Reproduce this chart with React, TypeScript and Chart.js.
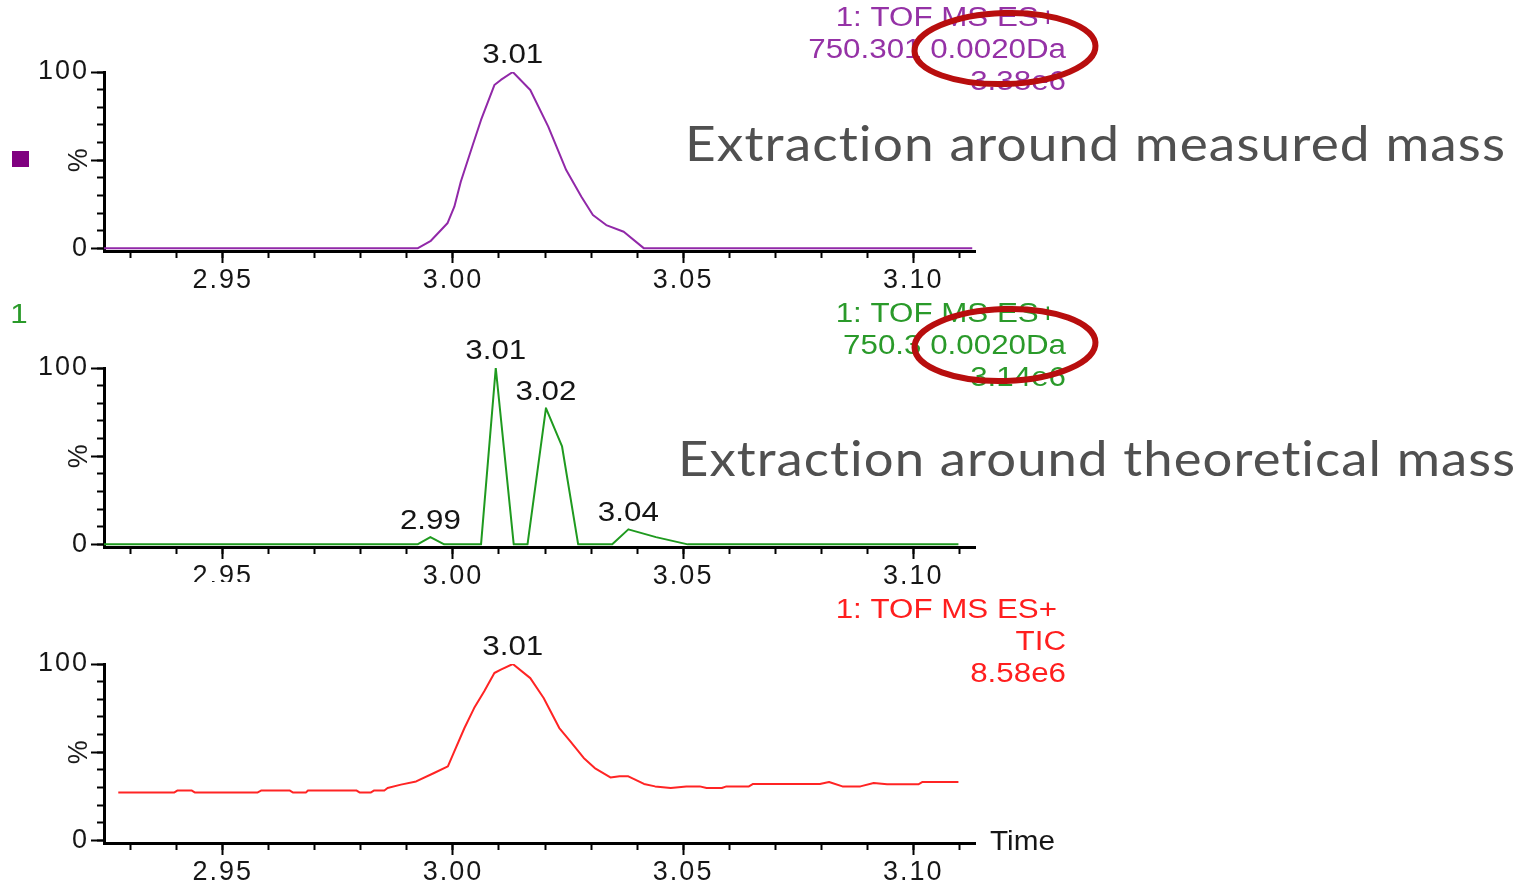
import React, { useEffect, useRef } from "react";
import { Chart, registerables } from "chart.js";

Chart.register(...registerables);

const FONT = "'Liberation Sans', Arial, sans-serif";
const W = 1529;
const H = 886;
const PLOT_LEFT = 104;
const PLOT_RIGHT = 975;
const X_AXIS_H = 45;
const Y_AXIS_W = 100;
const SX = 1.16;

// ---- axes ----
const xMin = 2.9242;
const xMax = 3.1134;
const xMinorTicks = [2.93, 2.94, 2.95, 2.96, 2.97, 2.98, 2.99, 3.0, 3.01, 3.02, 3.03, 3.04, 3.05, 3.06, 3.07, 3.08, 3.09, 3.1, 3.11];
const xMajorTicks = [2.95, 3.0, 3.05, 3.1];
const xTickLabels = ["2.95", "3.00", "3.05", "3.10"];
const yMin = -1.5;
const yMax = 100;
const yMinorTicks = [0, 10, 20, 30, 40, 50, 60, 70, 80, 90, 100];
const yMajorTicks = [0, 50, 100];
const yTickLabels = ["0", "", "100"];
const yTitle = "%";
const xTitle = "Time";

// ---- panel 1: extraction around measured mass ----
const measuredTimes = [2.9242, 2.9923, 2.9952, 2.9988, 3.0003, 3.0017, 3.0043, 3.0061, 3.009, 3.0104, 3.013, 3.0168, 3.0207, 3.0246, 3.0279, 3.0304, 3.0333, 3.0371, 3.0415, 3.1128];
const measuredValues = [0, 0, 4.3, 14.2, 23.6, 37.8, 58.6, 72.8, 92.6, 95.5, 100, 89.8, 69, 44.4, 29.3, 18.9, 13.2, 9.4, 0, 0];
const measuredPeakTimes = [3.013];
const measuredPeakValues = [100];
const measuredPeakLabels = ["3.01"];
const measuredInfo = ["1: TOF MS ES+", "750.301 0.0020Da", "3.38e6"];
const measuredCaption = "Extraction around measured mass";

// ---- panel 2: extraction around theoretical mass ----
const theoTimes = [2.9242, 2.9923, 2.9951, 2.9981, 3.0061, 3.0093, 3.0132, 3.0162, 3.0202, 3.0237, 3.0272, 3.0346, 3.0381, 3.0441, 3.051, 3.1098];
const theoValues = [0, 0, 4.1, 0, 0, 100, 0, 0, 77.2, 55.5, 0, 0, 8.5, 4.1, 0, 0];
const theoPeakTimes = [3.0093, 3.0202, 2.9951, 3.0381];
const theoPeakValues = [100, 77.2, 4.1, 8.5];
const theoPeakLabels = ["3.01", "3.02", "2.99", "3.04"];
const theoInfo = ["1: TOF MS ES+", "750.3 0.0020Da", "3.14e6"];
const theoCaption = "Extraction around theoretical mass";

// ---- panel 3: TIC ----
const ticTimes = [2.9273, 2.9395, 2.9402, 2.9432, 2.9439, 2.9576, 2.9584, 2.9645, 2.9652, 2.9681, 2.9685, 2.979, 2.9797, 2.9822, 2.9829, 2.9851, 2.9858, 2.9887, 2.992, 2.9959, 2.9989, 3.0003, 3.0025, 3.0046, 3.0068, 3.009, 3.0104, 3.013, 3.0168, 3.0197, 3.0231, 3.0255, 3.0284, 3.0308, 3.0342, 3.0362, 3.0381, 3.0415, 3.0439, 3.0473, 3.0507, 3.0536, 3.0551, 3.0584, 3.0594, 3.0643, 3.0652, 3.0797, 3.0817, 3.0846, 3.0885, 3.0914, 3.0943, 3.1011, 3.102, 3.1098];
const ticValues = [27.2, 27.2, 28.3, 28.3, 27.2, 27.2, 28.3, 28.3, 27.2, 27.2, 28.3, 28.3, 27.2, 27.2, 28.3, 28.3, 29.7, 31.6, 33.4, 38.2, 41.9, 50.5, 63.7, 75, 84.5, 94.9, 96.8, 100, 92, 80.7, 63.7, 56.1, 46.7, 41, 35.7, 36.3, 36.3, 32, 30.6, 29.7, 30.6, 30.6, 29.7, 29.7, 30.6, 30.6, 32, 32, 33.1, 30.6, 30.6, 32.5, 31.8, 31.8, 33.1, 33.1];
const ticPeakTimes = [3.013];
const ticPeakValues = [100];
const ticPeakLabels = ["3.01"];
const ticInfo = ["1: TOF MS ES+", "TIC", "8.58e6"];

function drawStretched(
  ctx: CanvasRenderingContext2D,
  text: string,
  x: number,
  y: number,
  align: "left" | "center" | "right",
  sx: number = SX
) {
  ctx.save();
  ctx.letterSpacing = "0px";
  const w = ctx.measureText(text).width * sx;
  const x0 = align === "left" ? x : align === "center" ? x - w / 2 : x - w;
  ctx.translate(x0, y);
  ctx.scale(sx, 1);
  ctx.textAlign = "left";
  ctx.fillText(text, 0, 0);
  ctx.restore();
}

function drawCaption(ctx: CanvasRenderingContext2D, text: string, left: number, right: number, baseline: number) {
  ctx.save();
  ctx.font = "48px Lato, 'Open Sans', sans-serif";
  ctx.letterSpacing = "1px";
  const w0 = ctx.measureText(text).width - 1;
  const sx = (right - left) / w0;
  ctx.fillStyle = "#505050";
  ctx.textAlign = "left";
  ctx.textBaseline = "alphabetic";
  ctx.translate(left, baseline);
  ctx.scale(sx, 1);
  ctx.fillText(text, 0, 0);
  ctx.restore();
}

function drawEllipse(ctx: CanvasRenderingContext2D, cx: number, cy: number, rx: number, ry: number) {
  ctx.save();
  ctx.beginPath();
  ctx.ellipse(cx, cy, rx, ry, -0.03, 0, Math.PI * 2);
  ctx.strokeStyle = "#B80E0E";
  ctx.lineWidth = 6;
  ctx.stroke();
  ctx.restore();
}

type PanelCfg = {
  key: string;
  top: number;
  bottom: number;
  times: number[];
  values: number[];
  color: string;
  infoColor: string;
  peakTimes: number[];
  peakValues: number[];
  peakLabels: string[];
  info: string[];
  extra: (ctx: CanvasRenderingContext2D, chart: any) => void;
};

const panels: PanelCfg[] = [
  {
    key: "measured",
    top: 72,
    bottom: 251,
    times: measuredTimes,
    values: measuredValues,
    color: "#9128A8",
    infoColor: "#9532A6",
    peakTimes: measuredPeakTimes,
    peakValues: measuredPeakValues,
    peakLabels: measuredPeakLabels,
    info: measuredInfo,
    extra: (ctx) => {
      ctx.fillStyle = "#800080";
      ctx.fillRect(12, 151, 17, 16);
      drawCaption(ctx, measuredCaption, 685, 1505, 161);
      drawEllipse(ctx, 1005, 48.5, 90.5, 35.5);
    },
  },
  {
    key: "theoretical",
    top: 368,
    bottom: 547,
    times: theoTimes,
    values: theoValues,
    color: "#1F9A1F",
    infoColor: "#2A9A2A",
    peakTimes: theoPeakTimes,
    peakValues: theoPeakValues,
    peakLabels: theoPeakLabels,
    info: theoInfo,
    extra: (ctx) => {
      ctx.fillStyle = "#ffffff";
      ctx.fillRect(185, 582, 80, 10);
      ctx.fillStyle = "#2A9A2A";
      ctx.font = `27px ${FONT}`;
      drawStretched(ctx, "1", 19, 316, "center");
      drawCaption(ctx, theoCaption, 678, 1515, 476);
      drawEllipse(ctx, 1005, 345, 90.5, 36);
    },
  },
  {
    key: "tic",
    top: 664,
    bottom: 843,
    times: ticTimes,
    values: ticValues,
    color: "#FF2424",
    infoColor: "#FF1E1E",
    peakTimes: ticPeakTimes,
    peakValues: ticPeakValues,
    peakLabels: ticPeakLabels,
    info: ticInfo,
    extra: (ctx, chart) => {
      ctx.fillStyle = "#161616";
      ctx.font = `27px ${FONT}`;
      drawStretched(ctx, xTitle, 990, chart.chartArea.bottom, "left", 1.1);
    },
  },
];

const INFO_DY = [-53, -21, 11];
const INFO_RIGHT = [1057, 1066, 1066];

function overlayPlugin(p: PanelCfg) {
  return {
    id: "overlay_" + p.key,
    beforeDraw(chart: any) {
      chart.ctx.letterSpacing = "2px";
    },
    afterDraw(chart: any) {
      const ctx: CanvasRenderingContext2D = chart.ctx;
      const xs = chart.scales.x;
      const ys = chart.scales.y;
      const top = chart.chartArea.top;
      ctx.save();
      ctx.letterSpacing = "0px";
      ctx.textBaseline = "middle";
      ctx.font = `27px ${FONT}`;
      ctx.fillStyle = "#151515";
      p.peakTimes.forEach((t, i) => {
        drawStretched(ctx, p.peakLabels[i], xs.getPixelForValue(t), ys.getPixelForValue(p.peakValues[i]) - 16, "center");
      });
      ctx.save();
      ctx.translate(80, ys.getPixelForValue(50));
      ctx.rotate(-Math.PI / 2);
      ctx.font = `27px ${FONT}`;
      ctx.textAlign = "center";
      ctx.fillStyle = "#1a1a1a";
      ctx.fillText(yTitle, 0, 0);
      ctx.restore();
      ctx.fillStyle = p.infoColor;
      ctx.font = `27px ${FONT}`;
      p.info.forEach((s, i) => drawStretched(ctx, s, INFO_RIGHT[i], top + INFO_DY[i], "right"));
      p.extra(ctx, chart);
      ctx.restore();
    },
  };
}

function buildConfig(p: PanelCfg): any {
  const tickFont = { family: FONT, size: 27 };
  return {
    type: "line",
    data: {
      datasets: [
        {
          data: p.times.map((t, i) => ({ x: t, y: p.values[i] })),
          xAxisID: "x",
          yAxisID: "y",
          borderColor: p.color,
          borderWidth: 2,
          borderJoinStyle: "round",
          pointRadius: 0,
          tension: 0,
          fill: false,
        },
      ],
    },
    options: {
      responsive: false,
      animation: false,
      events: [],
      layout: {
        padding: {
          left: PLOT_LEFT - Y_AXIS_W,
          right: W - PLOT_RIGHT,
          top: p.top,
          bottom: H - p.bottom - X_AXIS_H,
        },
      },
      plugins: { legend: { display: false }, tooltip: { enabled: false }, title: { display: false } },
      scales: {
        x: {
          type: "linear",
          position: "bottom",
          weight: 1,
          min: xMin,
          max: xMax,
          afterBuildTicks: (s: any) => {
            s.ticks = xMajorTicks.map((v) => ({ value: v }));
          },
          afterFit: (s: any) => {
            s.height = X_AXIS_H;
          },
          ticks: {
            callback: (_v: any, i: number) => xTickLabels[i],
            font: tickFont,
            color: "#161616",
            padding: 1,
            maxRotation: 0,
            autoSkip: false,
          },
          grid: { display: true, drawOnChartArea: false, drawTicks: true, tickLength: 12, tickWidth: 2, tickColor: "#000" },
          border: { display: true, width: 3, color: "#000" },
        },
        xMinor: {
          type: "linear",
          axis: "x",
          position: "bottom",
          weight: 0,
          min: xMin,
          max: xMax,
          afterBuildTicks: (s: any) => {
            s.ticks = xMinorTicks.map((v) => ({ value: v }));
          },
          afterFit: (s: any) => {
            s.height = 0;
          },
          ticks: { display: false },
          grid: { display: true, drawOnChartArea: false, drawTicks: true, tickLength: 7, tickWidth: 2, tickColor: "#000" },
          border: { display: false },
        },
        y: {
          type: "linear",
          position: "left",
          weight: 1,
          min: yMin,
          max: yMax,
          afterBuildTicks: (s: any) => {
            s.ticks = yMajorTicks.map((v) => ({ value: v }));
          },
          afterFit: (s: any) => {
            s.width = Y_AXIS_W;
          },
          ticks: {
            callback: (_v: any, i: number) => yTickLabels[i],
            font: tickFont,
            color: "#161616",
            padding: 2,
            autoSkip: false,
          },
          grid: { display: true, drawOnChartArea: false, drawTicks: true, tickLength: 13, tickWidth: 2, tickColor: "#000" },
          border: { display: true, width: 3, color: "#000" },
        },
        yMinor: {
          type: "linear",
          axis: "y",
          position: "left",
          weight: 0,
          min: yMin,
          max: yMax,
          afterBuildTicks: (s: any) => {
            s.ticks = yMinorTicks.map((v) => ({ value: v }));
          },
          afterFit: (s: any) => {
            s.width = 0;
          },
          ticks: { display: false },
          grid: { display: true, drawOnChartArea: false, drawTicks: true, tickLength: 7, tickWidth: 2, tickColor: "#000" },
          border: { display: false },
        },
      },
    },
    plugins: [overlayPlugin(p)],
  };
}

function Panel({ cfg }: { cfg: PanelCfg }) {
  const ref = useRef<HTMLCanvasElement | null>(null);
  useEffect(() => {
    if (!ref.current) return;
    const chart = new Chart(ref.current, buildConfig(cfg));
    return () => chart.destroy();
  }, [cfg]);
  return (
    <canvas
      ref={ref}
      width={W}
      height={H}
      style={{ position: "absolute", left: 0, top: 0, width: W, height: H }}
    />
  );
}

export default function App() {
  return (
    <div
      style={{
        position: "absolute",
        left: 0,
        top: 0,
        width: W,
        height: H,
        background: "#ffffff",
        overflow: "hidden",
      }}
    >
      {panels.map((p) => (
        <Panel key={p.key} cfg={p} />
      ))}
    </div>
  );
}
